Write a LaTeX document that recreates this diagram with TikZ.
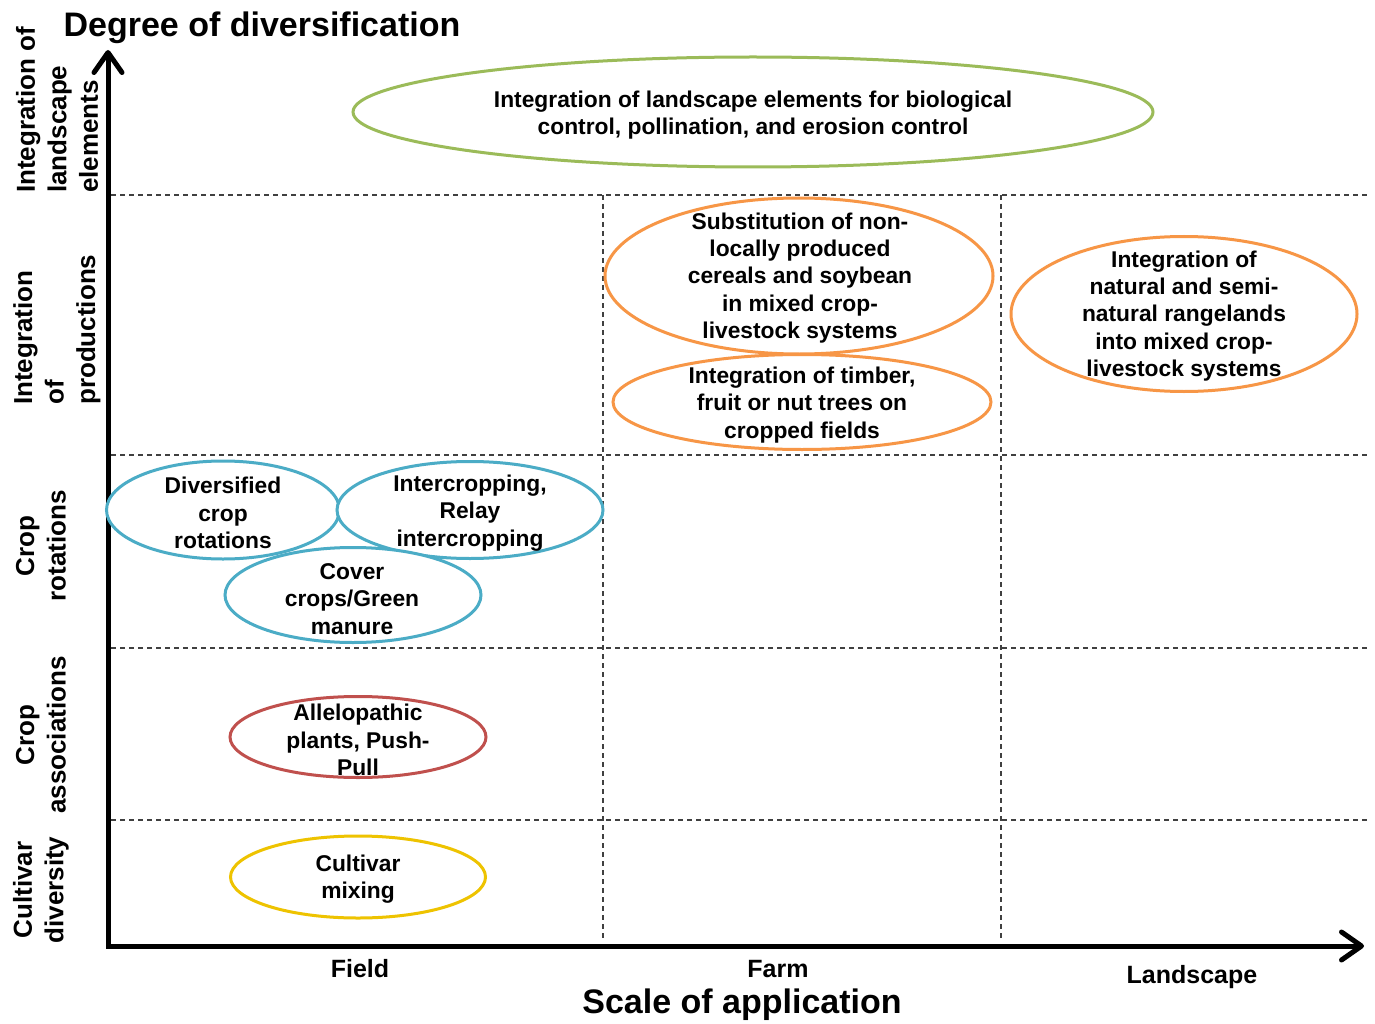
\documentclass[tikz,border=0pt]{standalone}
\usepackage{fontspec}
\setmainfont{Liberation Sans}
\usetikzlibrary{shapes.geometric,arrows.meta}
\definecolor{cgreen}{HTML}{9BBB59}
\definecolor{corange}{HTML}{F79646}
\definecolor{cblue}{HTML}{4BACC6}
\definecolor{cred}{HTML}{C0504D}
\definecolor{cyellow}{HTML}{EEC300}
\begin{document}
\begin{tikzpicture}[x=1pt,y=-1pt,
 ell/.style={ellipse, draw=#1, line width=3pt, fill=white, inner sep=0pt},
 etxt/.style={align=center, font=\fontsize{22.8}{27.2}\selectfont\bfseries, inner sep=0pt},
 gridline/.style={dash pattern=on 5pt off 4pt, line width=1.1pt, black!75},
 axisline/.style={line width=5pt, line join=miter, {Straight Barb[length=20pt,width=28pt,round]}-{Straight Barb[length=20pt,width=28pt,round]}},
 ylab/.style={rotate=90, font=\fontsize{26}{31.5}\selectfont\bfseries, inner sep=0pt},
 xlab/.style={font=\fontsize{25}{30}\selectfont\bfseries, inner sep=0pt},
 ttl/.style={font=\fontsize{34}{40}\selectfont\bfseries, inner sep=0pt},
 ]
\fill[white] (0,0) rectangle (1375,1024);
\useasboundingbox (0,0) rectangle (1375,1024);

% grid
\coordinate (h1a) at (111,195); \coordinate (h1b) at (1368,195);
\coordinate (h2a) at (111,455); \coordinate (h2b) at (1368,455);
\coordinate (h3a) at (111,648); \coordinate (h3b) at (1368,648);
\coordinate (h4a) at (111,820); \coordinate (h4b) at (1368,820);
\coordinate (v1a) at (603,195); \coordinate (v1b) at (603,938);
\coordinate (v2a) at (1001,195); \coordinate (v2b) at (1001,938);
\draw[gridline] (h1a) -- (h1b);
\draw[gridline] (h2a) -- (h2b);
\draw[gridline] (h3a) -- (h3b);
\draw[gridline] (h4a) -- (h4b);
\draw[gridline] (v1a) -- (v1b);
\draw[gridline] (v2a) -- (v2b);

% axes
\coordinate (O) at (108,946);
\coordinate (ytip) at (108,50);
\coordinate (xtip) at (1364,946);
\draw[axisline] (ytip) -- (O) -- (xtip);

% ellipses
\node[ell=cgreen, minimum width=800pt, minimum height=110pt] (e1) at (753,112) {};
\node[ell=corange, minimum width=388pt, minimum height=156pt] (e2) at (799,276) {};
\node[ell=corange, minimum width=378pt, minimum height=95pt] (e3) at (802,402) {};
\node[ell=corange, minimum width=346pt, minimum height=155pt] (e4) at (1184,314) {};
\node[ell=cblue, minimum width=233pt, minimum height=98pt] (e5) at (223,510) {};
\node[ell=cblue, minimum width=266pt, minimum height=97pt] (e6) at (470,510) {};
\node[ell=cblue, minimum width=256pt, minimum height=95pt] (e7) at (353,595) {};
\node[ell=cred, minimum width=256pt, minimum height=81pt] (e8) at (358,737) {};
\node[ell=cyellow, minimum width=255pt, minimum height=82pt] (e9) at (358,877) {};

% texts
\node[etxt] (t1) at (753,115) {Integration of landscape elements for biological\\control, pollination, and erosion control};
\node[etxt] (t2) at (800,278) {Substitution of non-\\locally produced\\cereals and soybean\\in mixed crop-\\livestock systems};
\node[etxt] (t3) at (802,405) {Integration of timber,\\fruit or nut trees on\\cropped fields};
\node[etxt] (t4) at (1184,316) {Integration of\\natural and semi-\\natural rangelands\\into mixed crop-\\livestock systems};
\node[etxt] (t5) at (223,513) {Diversified\\crop\\rotations};
\node[etxt] (t6) at (470,513) {Intercropping,\\Relay\\intercropping};
\node[etxt] (t7) at (352,599) {Cover\\crops/Green\\manure};
\node[etxt] (t8) at (358,740) {Allelopathic\\plants, Push-\\Pull};
\node[etxt] (t9) at (358,879) {Cultivar\\mixing};

% y labels
\node[ylab, anchor=west, align=left] (y1) at (57,193) {Integration of\\landscape\\elements};
\node[ylab, anchor=west, align=left] (y2) at (57,405) {Integration\\of\\productions};
\node[ylab, align=center] (y3) at (41,546) {Crop\\rotations};
\node[ylab, align=center] (y4) at (41,735) {Crop\\associations};
\node[ylab, align=center] (y5) at (41,890) {Cultivar\\diversity};

% x labels
\node[xlab] (x1) at (360,969) {Field};
\node[xlab] (x2) at (778,969) {Farm};
\node[xlab] (x3) at (1192,977) {Landscape};

% titles
\node[ttl] (ty) at (262,28) {Degree of diversification};
\node[ttl] (tx) at (742,1005) {Scale of application};
\end{tikzpicture}
\end{document}
